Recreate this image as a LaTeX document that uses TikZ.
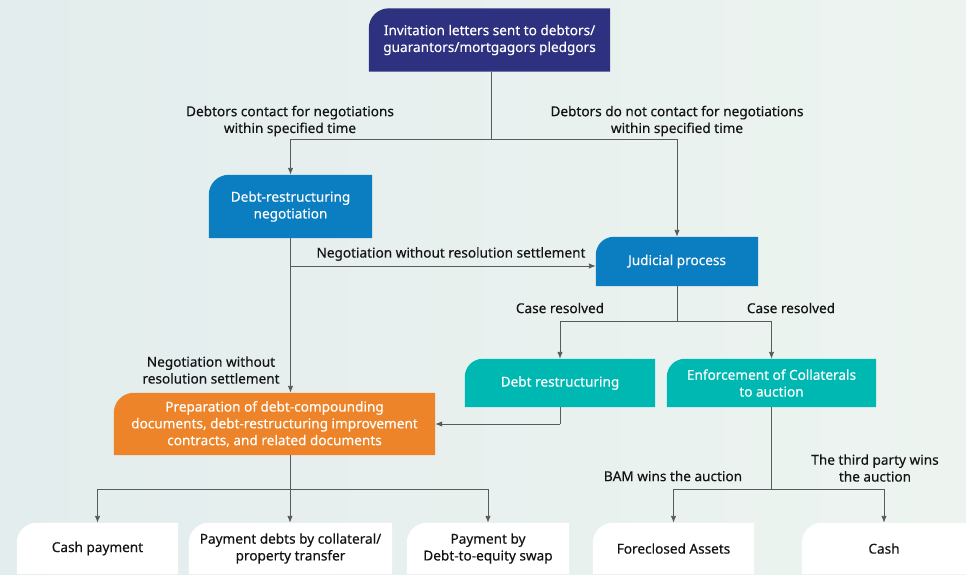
\documentclass[tikz,border=0pt]{standalone}
\usepackage{fontspec}
\setmainfont{Noto Sans}[FakeBold=0.3]
\usetikzlibrary{arrows.meta,calc}
\pgfdeclarelayer{bg}
\pgfsetlayers{bg,main}
\definecolor{navy}{HTML}{2E3180}
\definecolor{bblue}{HTML}{0B7DC1}
\definecolor{orng}{HTML}{EE8429}
\definecolor{teal}{HTML}{00B8B2}
\definecolor{lin}{HTML}{5A5A5A}
\definecolor{txt}{HTML}{141414}
\definecolor{bgl}{HTML}{E3EDED}
\definecolor{bgr}{HTML}{EDF4F0}
\newcommand\shapefill[3]{%
  \fill[#2] (#1.south west) -- ([yshift={-#3}]#1.north west)
    .. controls ([yshift={-0.448*#3}]#1.north west) and ([xshift={0.448*#3}]#1.north west) ..
    ([xshift={#3}]#1.north west) -- (#1.north east) -- (#1.south east) -- cycle;}
\begin{document}
\begin{tikzpicture}[x=1pt,y=-1pt,
  font=\fontsize{13.6}{16.8}\selectfont\bfseries,
  boxnode/.style={inner sep=0pt, align=center, text=white},
  whitenode/.style={inner sep=0pt, align=center, text=txt, minimum height=51pt},
  lbl/.style={align=center, text=txt, inner sep=0pt},
  conn/.style={draw=lin, line width=0.9pt},
  arr/.style={conn, -{Latex[length=7pt,width=5.5pt]}}]
\begin{pgfonlayer}{bg}
  \shade[left color=bgl, right color=bgr] (0,0) rectangle (966,574);
\end{pgfonlayer}
\useasboundingbox (0,0) rectangle (966,574);

% boxes
\node[boxnode, minimum width=241pt, minimum height=63pt] (n1) at (489.5,40) {Invitation letters sent to debtors/\\guarantors/mortgagors pledgors};
\node[boxnode, minimum width=163pt, minimum height=63pt] (n2) at (290.5,206.5) {Debt-restructuring\\negotiation};
\node[boxnode, minimum width=162pt, minimum height=49pt] (n3) at (677,261.5) {Judicial process};
\node[boxnode, minimum width=321pt, minimum height=62pt] (n4) at (274.5,424) {Preparation of debt-compounding\\documents, debt-restructuring improvement\\contracts, and related documents};
\node[boxnode, minimum width=190pt, minimum height=48pt] (n5) at (560,383) {Debt restructuring};
\node[boxnode, minimum width=209pt, minimum height=48pt] (n6) at (771.5,383) {Enforcement of Collaterals\\to auction};

\node[whitenode, minimum width=161pt] (b1) at (97.5,548.5) {Cash payment};
\node[whitenode, minimum width=203pt] (b2) at (290.5,548.5) {Payment debts by collateral/\\property transfer};
\node[whitenode, minimum width=162pt] (b3) at (488,548.5) {Payment by\\Debt-to-equity swap};
\node[whitenode, minimum width=161pt] (b4) at (673.5,548.5) {Foreclosed Assets};
\node[whitenode, minimum width=164pt] (b5) at (884,548.5) {Cash};

\begin{pgfonlayer}{bg}
  \shapefill{n1}{navy}{20pt}
  \shapefill{n2}{bblue}{20pt}
  \shapefill{n3}{bblue}{18pt}
  \shapefill{n4}{orng}{20pt}
  \shapefill{n5}{teal}{18pt}
  \shapefill{n6}{teal}{18pt}
  \shapefill{b1}{white}{20pt}
  \shapefill{b2}{white}{20pt}
  \shapefill{b3}{white}{20pt}
  \shapefill{b4}{white}{20pt}
  \shapefill{b5}{white}{20pt}
\end{pgfonlayer}

% labels
\node[lbl] (l1) at (290,121) {Debtors contact for negotiations\\within specified time};
\node[lbl] (l2) at (677,121) {Debtors do not contact for negotiations\\within specified time};
\node[lbl] (l3) at (451,254) {Negotiation without resolution settlement};
\node[lbl] (l4) at (211,370) {Negotiation without\\resolution settlement};
\node[lbl] (l5) at (560,308) {Case resolved};
\node[lbl] (l6) at (791,308) {Case resolved};
\node[lbl] (l7) at (673,476) {BAM wins the auction};
\node[lbl] (l8) at (875,468) {The third party wins\\the auction};

% junctions
\coordinate (j1) at (491,139);
\coordinate (j2) at (290.5,266);
\coordinate (j3) at (677,321);
\coordinate (j5) at (560,424);
\coordinate (j4) at (290,489);
\coordinate (j6) at (771.5,489);

% connectors
\draw[conn] (n1.south -| j1) -- (j1);
\draw[arr] (j1) -| (n2.north);
\draw[arr] (j1) -| (n3.north);
\draw[arr] (n2.south) -- (n2.south |- n4.north);
\draw[arr] (j2) -- (j2 -| n3.west);
\draw[conn] (n3.south) -- (j3);
\draw[arr] (j3) -| (n5.north);
\draw[arr] (j3) -| (n6.north);
\draw[conn] (n5.south) -- (j5);
\draw[arr] (j5) -- (n4.east);
\draw[conn] (n4.south -| j4) -- (j4);
\draw[arr] (j4) -| (b1.north);
\draw[arr] (j4) -- (j4 |- b2.north);
\draw[arr] (j4) -| (b3.north);
\draw[conn] (n6.south) -- (j6);
\draw[arr] (j6) -| (b4.north);
\draw[arr] (j6) -| (b5.north);
\end{tikzpicture}
\end{document}
